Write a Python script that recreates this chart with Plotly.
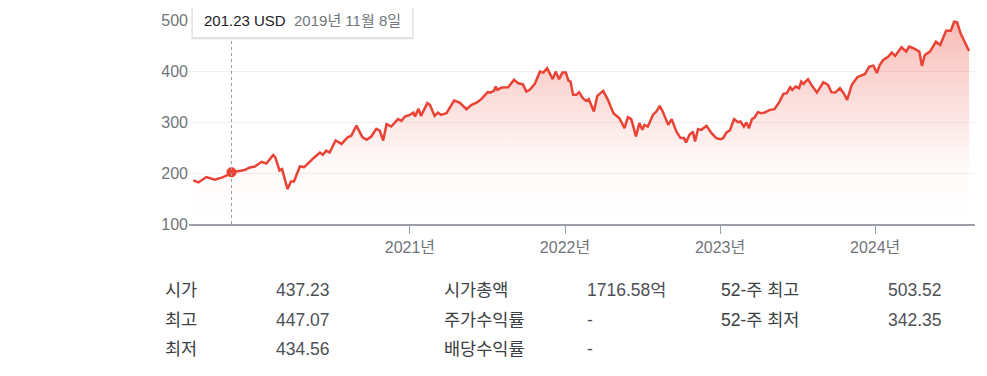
import plotly.graph_objects as go

# ---------------- data ----------------
dates = [
    "2019-08-10", "2019-08-22", "2019-09-10", "2019-09-30", "2019-10-16", "2019-10-27",
    "2019-11-08", "2019-11-24", "2019-12-09", "2019-12-21", "2020-01-02", "2020-01-18",
    "2020-01-29", "2020-02-14", "2020-02-19", "2020-02-29", "2020-03-06", "2020-03-19",
    "2020-03-27", "2020-04-03", "2020-04-17", "2020-04-27", "2020-05-11", "2020-05-19",
    "2020-06-03", "2020-06-10", "2020-06-18", "2020-06-26", "2020-07-10", "2020-07-24",
    "2020-08-08", "2020-08-16", "2020-08-28", "2020-09-11", "2020-09-21", "2020-10-02",
    "2020-10-14", "2020-10-22", "2020-10-30", "2020-11-07", "2020-11-18", "2020-12-04",
    "2020-12-12", "2020-12-20", "2021-01-01", "2021-01-09", "2021-01-13", "2021-01-21",
    "2021-01-27", "2021-02-11", "2021-02-17", "2021-02-28", "2021-03-08", "2021-03-15",
    "2021-03-28", "2021-04-15", "2021-04-28", "2021-05-14", "2021-05-26", "2021-06-07",
    "2021-06-18", "2021-07-03", "2021-07-10", "2021-07-18", "2021-07-22", "2021-07-26",
    "2021-08-05", "2021-08-20", "2021-09-03", "2021-09-13", "2021-09-24", "2021-10-02",
    "2021-10-10", "2021-10-22", "2021-11-03", "2021-11-11", "2021-11-20", "2021-12-03",
    "2021-12-10", "2021-12-18", "2021-12-26", "2022-01-03", "2022-01-09", "2022-01-14",
    "2022-01-20", "2022-01-28", "2022-02-03", "2022-02-12", "2022-02-20", "2022-02-26",
    "2022-03-10", "2022-03-18", "2022-04-01", "2022-04-12", "2022-04-25", "2022-05-09",
    "2022-05-21", "2022-05-29", "2022-06-06", "2022-06-17", "2022-06-25", "2022-07-02",
    "2022-07-07", "2022-07-15", "2022-07-27", "2022-08-04", "2022-08-12", "2022-08-19",
    "2022-09-01", "2022-09-09", "2022-09-20", "2022-09-30", "2022-10-08", "2022-10-13",
    "2022-10-21", "2022-10-29", "2022-11-03", "2022-11-10", "2022-11-18", "2022-11-30",
    "2022-12-12", "2022-12-23", "2023-01-02", "2023-01-08", "2023-01-16", "2023-01-24",
    "2023-02-03", "2023-02-12", "2023-02-18", "2023-02-26", "2023-03-04", "2023-03-10",
    "2023-03-17", "2023-03-23", "2023-03-31", "2023-04-08", "2023-04-16", "2023-04-28",
    "2023-05-09", "2023-05-21", "2023-05-30", "2023-06-07", "2023-06-15", "2023-06-20",
    "2023-06-28", "2023-07-06", "2023-07-11", "2023-07-16", "2023-07-21", "2023-07-27",
    "2023-08-04", "2023-08-17", "2023-09-01", "2023-09-12", "2023-09-20", "2023-09-29",
    "2023-10-10", "2023-10-19", "2023-10-27", "2023-11-07", "2023-11-20", "2023-11-30",
    "2023-12-08", "2023-12-18", "2023-12-28", "2024-01-05", "2024-01-12", "2024-01-20",
    "2024-02-01", "2024-02-09", "2024-02-17", "2024-03-03", "2024-03-14", "2024-03-21",
    "2024-03-31", "2024-04-14", "2024-04-20", "2024-04-27", "2024-05-09", "2024-05-23",
    "2024-06-02", "2024-06-16", "2024-06-27", "2024-07-05", "2024-07-12", "2024-07-20",
    "2024-07-30", "2024-08-09",
]
prices = [
    185.4, 181.5, 192.0, 186.7, 191.0, 194.6,
    201.23, 203.0, 205.7, 210.8, 212.8, 222.0,
    218.7, 235.0, 231.0, 205.0, 207.7, 168.5,
    183.4, 183.4, 212.8, 211.6, 224.0, 229.0,
    240.2, 235.7, 244.0, 240.0, 263.7, 257.0,
    270.3, 272.9, 293.0, 270.3, 265.0, 271.5,
    286.6, 283.3, 263.7, 295.8, 291.1, 305.6,
    302.3, 310.7, 314.0, 318.5, 311.0, 326.0,
    312.0, 337.0, 333.6, 312.0, 318.5, 314.0,
    317.3, 342.0, 338.0, 325.0, 333.6, 338.0,
    344.8, 358.5, 357.7, 361.6, 369.5, 363.0,
    367.5, 368.3, 382.6, 376.0, 374.0, 359.6,
    363.0, 375.0, 398.8, 396.9, 405.5, 384.0,
    398.8, 384.0, 396.9, 397.0, 381.0, 379.2,
    353.2, 353.2, 358.5, 346.7, 341.4, 344.8,
    320.5, 351.2, 361.0, 343.4, 317.3, 307.5,
    288.0, 309.5, 305.6, 271.5, 297.8, 284.6,
    294.4, 291.0, 314.0, 320.5, 331.6, 320.5,
    294.4, 305.6, 281.3, 268.4, 268.4, 259.8,
    274.9, 281.3, 261.7, 286.0, 284.6, 292.5,
    278.2, 268.4, 266.4, 268.4, 279.4, 283.3,
    305.6, 299.7, 300.9, 291.0, 299.0, 288.0,
    305.6, 308.8, 319.3, 317.3, 318.5, 323.8,
    325.2, 340.0, 355.1, 356.5, 368.3, 363.0,
    369.5, 366.3, 379.2, 374.7, 379.2, 384.0,
    372.8, 357.7, 378.0, 372.8, 358.5, 357.7,
    366.3, 356.5, 343.4, 372.8, 387.8, 391.0,
    394.3, 408.6, 410.6, 396.0, 412.0, 421.7,
    428.2, 436.0, 429.5, 446.6, 438.0, 447.8,
    444.6, 438.0, 410.0, 431.5, 438.0, 457.5,
    451.1, 479.0, 479.0, 496.7, 495.5, 474.0,
    455.6, 439.3,
]

tooltip_date = "2019-11-08"
tooltip_value = 201.23
tooltip_price_text = "201.23 USD"
tooltip_date_text = "2019년 11월 8일"

x_tick_vals = ["2021-01-01", "2022-01-01", "2023-01-01", "2024-01-01"]
x_tick_text = ["2021년", "2022년", "2023년", "2024년"]
y_tick_vals = [100, 200, 300, 400, 500]

col1_labels = ["시가", "최고", "최저"]
col1_values = ["437.23", "447.07", "434.56"]
col2_labels = ["시가총액", "주가수익률", "배당수익률"]
col2_values = ["1716.58억", "-", "-"]
col3_labels = ["52-주 최고", "52-주 최저"]
col3_values = ["503.52", "342.35"]

# ---------------- layout constants ----------------
OFF = 8                      # page body margin
W, H = 987 - OFF, 376 - OFF
PL, PR, PT, PB = 189, 975, 20, 224  # plot area in window px
FONT = "Arial, 'Liberation Sans', 'Noto Sans CJK KR', sans-serif"
RED = "#ea4335"
GRAY = "#70757a"


def px(xp):
    return (xp - PL) / (PR - PL)


def py(yp):
    return (PB - yp) / (PB - PT)


fig = go.Figure()

fig.add_trace(go.Scatter(
    x=dates, y=prices, mode="lines",
    line=dict(color=RED, width=2.5),
    fill="tozeroy",
    fillgradient=dict(type="vertical", start=100, stop=500,
                      colorscale=[[0, "rgba(234,67,53,0)"],
                                  [0.3, "rgba(234,67,53,0.03)"],
                                  [1, "rgba(234,67,53,0.36)"]]),
    hoverinfo="skip", showlegend=False,
))

fig.add_trace(go.Scatter(
    x=[tooltip_date], y=[tooltip_value], mode="markers",
    marker=dict(color=RED, size=10),
    hoverinfo="skip", showlegend=False, cliponaxis=False,
))

shapes = [
    dict(type="line", xref="x", yref="paper", x0=tooltip_date, x1=tooltip_date,
         y0=0, y1=py(37.5), line=dict(color="#9e9e9e", width=1, dash="dot"), layer="above"),
    dict(type="rect", xref="paper", yref="paper", x0=px(191), x1=px(414),
         y0=py(39.5), y1=py(3.5), line=dict(width=0), fillcolor="rgba(0,0,0,0.07)", layer="above"),
    dict(type="rect", xref="paper", yref="paper", x0=px(192), x1=px(413),
         y0=py(38.5), y1=py(3.5), line=dict(width=0), fillcolor="rgba(0,0,0,0.08)", layer="above"),
]

annotations = [
    dict(xref="paper", yref="paper", x=px(192), y=py(3), xanchor="left", yanchor="top",
         text=(f"<span style='color:#202124'>{tooltip_price_text}</span>&nbsp;&nbsp;"
               f"<span style='color:{GRAY}'>{tooltip_date_text}</span>"),
         showarrow=False, bgcolor="white", bordercolor="#e4e4e4", borderwidth=1,
         borderpad=0, width=219, height=33, align="center",
         font=dict(family=FONT, size=15)),
]

row_y = [289.5, 319.5, 348.5]


def add_col(labels, values, lx, vx):
    for i, (lab, val) in enumerate(zip(labels, values)):
        annotations.append(dict(xref="paper", yref="paper", x=px(lx), y=py(row_y[i]),
                                xanchor="left", yanchor="middle", text=lab, showarrow=False,
                                font=dict(family=FONT, size=17.5, color="#3c4043")))
        annotations.append(dict(xref="paper", yref="paper", x=px(vx), y=py(row_y[i]),
                                xanchor="left", yanchor="middle", text=val, showarrow=False,
                                font=dict(family=FONT, size=17.5, color="#4d5156")))


add_col(col1_labels, col1_values, 163, 274)
add_col(col2_labels, col2_values, 442, 585)
add_col(col3_labels, col3_values, 719, 886)

fig.update_layout(
    width=W, height=H,
    margin=dict(l=PL - OFF, r=987 - PR, t=PT - OFF, b=376 - PB, pad=0),
    paper_bgcolor="white", plot_bgcolor="white",
    font=dict(family=FONT, color=GRAY, size=16),
    xaxis=dict(
        type="date", range=["2019-07-31", "2024-08-23"], automargin=False,
        tickvals=x_tick_vals, ticktext=x_tick_text,
        ticks="outside", ticklen=8, tickcolor="#9aa0a6", tickwidth=1,
        showgrid=False, zeroline=False,
        showline=True, linecolor="#9aa0a6", linewidth=2,
        tickfont=dict(family=FONT, size=16, color=GRAY),
    ),
    yaxis=dict(
        range=[100, 500], tickvals=y_tick_vals, automargin=False,
        showgrid=True, gridcolor="#f0f0f0", gridwidth=1,
        zeroline=False, showline=False, ticks="",
        tickfont=dict(family=FONT, size=16, color=GRAY),
    ),
    shapes=shapes, annotations=annotations,
    showlegend=False, hovermode=False,
)

fig.write_html("out.html")
